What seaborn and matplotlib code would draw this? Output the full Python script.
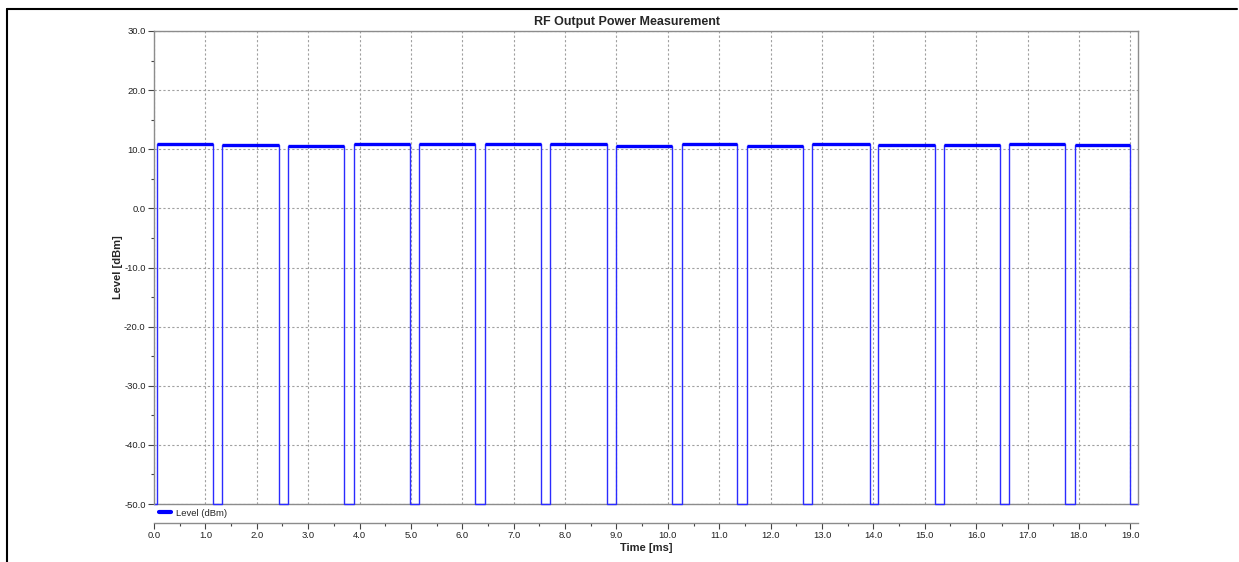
import matplotlib
matplotlib.use("Agg")
import matplotlib.pyplot as plt
import seaborn as sns
import pandas as pd
from matplotlib.ticker import MultipleLocator, FormatStrFormatter
from matplotlib.lines import Line2D

# pulse timing (ms) and the on-level of each burst (dBm)
rise_ms = [0.05, 1.33, 2.615, 3.89, 5.165, 6.44, 7.71, 8.99, 10.27, 11.54,
           12.815, 14.09, 15.365, 16.645, 17.915]
fall_ms = [1.155, 2.43, 3.705, 4.98, 6.255, 7.535, 8.81, 10.08, 11.35, 12.63,
           13.925, 15.19, 16.455, 17.735, 19.0]
level_dbm = [10.85, 10.8, 10.6, 10.9, 10.85, 10.85, 10.85, 10.55, 10.9, 10.5,
             10.85, 10.65, 10.8, 10.9, 10.7]
floor_dbm = -50.0
t_end = 19.15

x_ticks = [0.0, 1.0, 2.0, 3.0, 4.0, 5.0, 6.0, 7.0, 8.0, 9.0, 10.0, 11.0,
           12.0, 13.0, 14.0, 15.0, 16.0, 17.0, 18.0, 19.0]
y_ticks = [-50.0, -40.0, -30.0, -20.0, -10.0, 0.0, 10.0, 20.0, 30.0]

sns.set_style("white")
plt.rcParams['font.family'] = ['Liberation Sans', 'DejaVu Sans']

# build the step trace from the pulse table
tx, ty = [0.0], [floor_dbm]
for r, f, lv in zip(rise_ms, fall_ms, level_dbm):
    tx += [r, r, f, f]
    ty += [floor_dbm, lv, lv, floor_dbm]
tx.append(t_end)
ty.append(floor_dbm)
trace = pd.DataFrame({"t": tx, "lvl": ty})

W, H = 1239, 562
fig = plt.figure(figsize=(W / 100, H / 100), dpi=100)
fig.patch.set_facecolor("white")
ax = fig.add_axes([154 / W, 1 - 504 / H, (1138 - 154) / W, (504 - 31) / H])

ax.axhline(floor_dbm, color="#8c8c8c", linewidth=1.0, zorder=1)
sns.lineplot(data=trace, x="t", y="lvl", sort=False, estimator=None,
             color="#2b2bff", linewidth=1.0, ax=ax)
for ln in ax.get_lines():
    ln.set_clip_on(False)
# noisy tops look thicker in the original
for r, f, lv in zip(rise_ms, fall_ms, level_dbm):
    ax.plot([r, f], [lv, lv], color="#0000ff", linewidth=2.4, solid_capstyle="butt")

ax.set_xlim(0, t_end)
ax.set_ylim(floor_dbm, 30)
ax.set_xticks(x_ticks)
ax.set_yticks(y_ticks)
ax.xaxis.set_minor_locator(MultipleLocator(0.5))
ax.yaxis.set_minor_locator(MultipleLocator(5))
ax.xaxis.set_major_formatter(FormatStrFormatter("%.1f"))
ax.yaxis.set_major_formatter(FormatStrFormatter("%.1f"))
ax.grid(True, which="major", color="#a0a0a0", linestyle=(0, (2, 2)), linewidth=0.8)

for side in ["top", "right", "left", "bottom"]:
    ax.spines[side].set_color("#8c8c8c")
    ax.spines[side].set_linewidth(1.0)
ax.spines["bottom"].set_position(("outward", 13.7))

ax.tick_params(axis="both", which="major", direction="out", length=4, width=0.8,
               color="#444444", labelsize=6.8, labelcolor="#222222", pad=2,
               bottom=True, left=True)
ax.tick_params(axis="both", which="minor", direction="out", length=2, width=0.8,
               color="#444444", bottom=True, left=True)

ax.set_xlabel("Time [ms]", fontsize=8, fontweight="bold", labelpad=2)
ax.set_ylabel("Level [dBm]", fontsize=8, fontweight="bold", labelpad=1)
fig.text(627 / W, 1 - 22 / H, "RF Output Power Measurement", ha="center", va="center",
         fontsize=9, fontweight="bold")

handle = Line2D([], [], color="#0000ff", linewidth=3)
ax.legend([handle], ["Level (dBm)"], loc="upper left", bbox_to_anchor=(0.002, -0.004),
          frameon=False, fontsize=6.8, handlelength=1.3, handletextpad=0.5,
          borderaxespad=0.2, borderpad=0.1)

# outer frame of the screenshot
fig.add_artist(Line2D([7 / W, 7 / W], [0, 1 - 9 / H], color="black", linewidth=1.5))
fig.add_artist(Line2D([7 / W, 1237 / W], [1 - 9 / H, 1 - 9 / H], color="black", linewidth=1.5))

fig.savefig("out.png", dpi=100, facecolor="white")
